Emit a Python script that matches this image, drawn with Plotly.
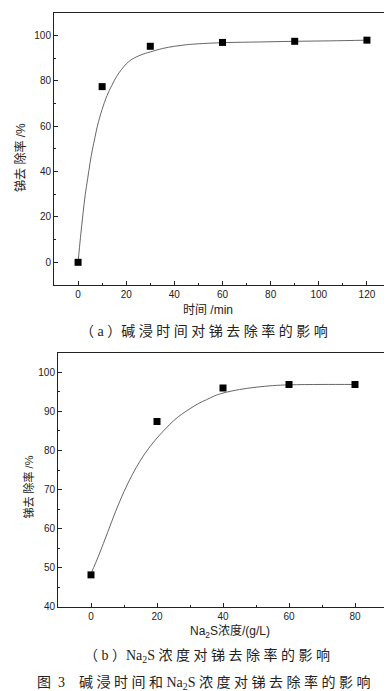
import plotly.graph_objects as go

# ---- data (a): leaching time vs Sb removal ----
time_min = [0, 10, 30, 60, 90, 120]
removal_a = [0, 77.5, 95.3, 97.0, 97.5, 98.0]
fit_x_a = [0, 1, 2, 3, 4, 5, 6, 7, 8, 9, 10, 12, 14, 16, 18, 20, 22, 25, 28, 30,
           35, 40, 45, 50, 60, 75, 90, 105, 120]
fit_y_a = [0, 11, 21, 30, 37, 44, 50, 55, 60, 64, 67.5, 73.5, 78, 82, 85, 87.5, 89.3,
           91, 92.2, 92.8, 94.3, 95.3, 96, 96.4, 96.9, 97.2, 97.5, 97.7, 98.0]

# ---- data (b): Na2S concentration vs Sb removal ----
na2s_conc = [0, 20, 40, 60, 80]
removal_b = [48.2, 87.4, 96.0, 96.9, 96.9]
fit_x_b = [0, 2.5, 5, 7.5, 10, 12.5, 15, 17.5, 20, 22.5, 25, 27.5, 30, 32.5, 35, 37.5,
           40, 45, 50, 55, 60, 70, 80]
fit_y_b = [48.5, 53.5, 59, 64.5, 69.5, 73.8, 77.5, 80.6, 83.2, 85.5, 87.6, 89.3, 90.7,
           92, 93, 94, 94.7, 95.6, 96.2, 96.6, 96.8, 96.9, 96.9]

xticks_a = [0, 20, 40, 60, 80, 100, 120]
yticks_a = [0, 20, 40, 60, 80, 100]
xticks_b = [0, 20, 40, 60, 80]
yticks_b = [40, 50, 60, 70, 80, 90, 100]

W, H = 392, 691
FONT = "Liberation Sans, Arial, Noto Sans CJK SC"
CAPFONT = "Liberation Serif, Noto Sans CJK SC"
SP = "\u2005"

fig = go.Figure()

line_style = dict(color="#555555", width=0.9)
mark_style = dict(symbol="square", size=7, color="black")

fig.add_trace(go.Scatter(x=fit_x_a, y=fit_y_a, mode="lines", line=line_style,
                         line_shape="spline", xaxis="x", yaxis="y", showlegend=False))
fig.add_trace(go.Scatter(x=time_min, y=removal_a, mode="markers", marker=mark_style,
                         xaxis="x", yaxis="y", showlegend=False))
fig.add_trace(go.Scatter(x=fit_x_b, y=fit_y_b, mode="lines", line=line_style,
                         line_shape="spline", xaxis="x2", yaxis="y2", showlegend=False))
fig.add_trace(go.Scatter(x=na2s_conc, y=removal_b, mode="markers", marker=mark_style,
                         xaxis="x2", yaxis="y2", showlegend=False))

axis_common = dict(showline=True, linecolor="#222", linewidth=1, mirror=True,
                   ticks="inside", ticklen=4, tickcolor="#222", showgrid=False,
                   zeroline=False, tickfont=dict(family=FONT, size=10, color="#222"),
                   minor=dict(ticks="inside", ticklen=2, tickcolor="#222"))

fig.update_layout(
    width=W, height=H,
    margin=dict(l=0, r=0, t=0, b=0),
    paper_bgcolor="white", plot_bgcolor="white",
    xaxis=dict(axis_common, domain=[46 / W, 383 / W], range=[-10, 130],
               tickvals=xticks_a, anchor="y", minor_dtick=10),
    yaxis=dict(axis_common, domain=[1 - 279 / H, 1 - 5 / H], range=[-10, 110],
               tickvals=yticks_a, anchor="x", minor_dtick=10),
    xaxis2=dict(axis_common, domain=[50 / W, 380 / W], range=[-10, 90],
                tickvals=xticks_b, anchor="y2", minor_dtick=10),
    yaxis2=dict(axis_common, domain=[1 - 603.3 / H, 1 - 347.3 / H], range=[40, 105],
                tickvals=yticks_b, anchor="x2"),
)

def ann(text, x, y, size, family=FONT, angle=0):
    fig.add_annotation(text=text, x=x / W, y=1 - y / H, xref="paper", yref="paper",
                       showarrow=False, textangle=angle, xanchor="center", yanchor="middle",
                       font=dict(family=family, size=size, color="#222"))

def spaced(s):
    return SP.join(list(s))

ann("锑去 除率 /%", 13, 151, 12, angle=-90)
ann("时间 /min", 200, 304, 12)
ann("（" + SP + "a" + SP + "）" + spaced("碱浸时间对锑去除率的影响"), 196, 325, 14, family=CAPFONT)

ann("锑去 除率 /%", 21, 483, 11, angle=-90)
ann("Na<sub>2</sub>S浓度/(g/L)", 222, 628, 12)
ann("（" + SP + "b" + SP + "）" + "Na<sub>2</sub>S" + SP + spaced("浓度对锑去除率的影响"),
    199, 653, 14, family=CAPFONT)
ann("图\u20023\u3000" + spaced("碱浸时间和") + SP + "Na<sub>2</sub>S" + SP
    + spaced("浓度对锑去除率的影响"), 196, 680, 14, family=CAPFONT)

fig.write_html("out.html")
